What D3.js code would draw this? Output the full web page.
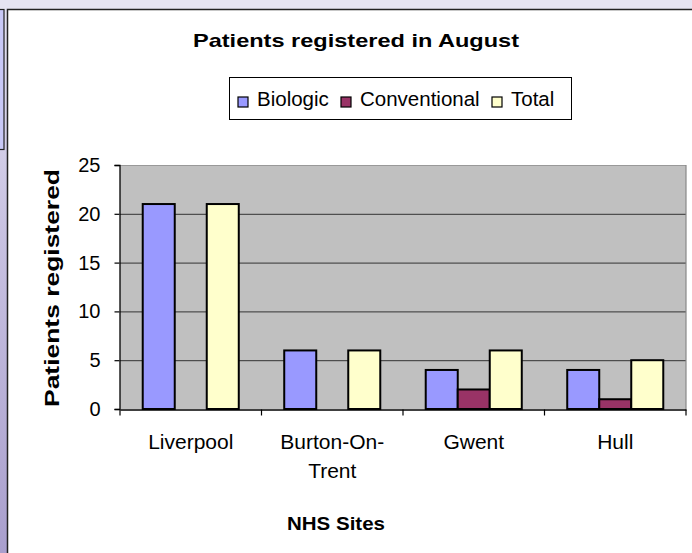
<!DOCTYPE html>
<html>
<head>
<meta charset="utf-8">
<script src="https://cdn.jsdelivr.net/npm/d3@7"></script>
<style>
html,body{margin:0;padding:0;background:#fff;}
svg{display:block;}
text{font-family:"Liberation Sans",Arial,sans-serif;fill:#000;}
</style>
</head>
<body>
<svg id="chart" width="692" height="553"></svg>
<script>
// ---- data ----
const categories = ["Liverpool", "Burton-On-Trent", "Gwent", "Hull"];
const categoryLabels = [["Liverpool"], ["Burton-On-", "Trent"], ["Gwent"], ["Hull"]];
const seriesNames = ["Biologic", "Conventional", "Total"];
const biologic = [21, 6, 4, 4];
const conventional = [0, 0, 2, 1];
const total = [21, 6, 6, 5];
const yTicks = [0, 5, 10, 15, 20, 25];
const colors = ["#9999ff", "#993366", "#ffffcc"];

const series = [biologic, conventional, total];

const svg = d3.select("#chart");
const W = 692, H = 553;

// background (slide behind the chart)
const defs = svg.append("defs");
const lg = defs.append("linearGradient").attr("id", "bgGrad").attr("x1", 0).attr("y1", 0).attr("x2", 0).attr("y2", 1);
lg.append("stop").attr("offset", "0%").attr("stop-color", "#e4e2f2");
lg.append("stop").attr("offset", "40%").attr("stop-color", "#c9c3e2");
lg.append("stop").attr("offset", "100%").attr("stop-color", "#a99fcd");
svg.append("rect").attr("x", 0).attr("y", 0).attr("width", W).attr("height", H).attr("fill", "url(#bgGrad)");
svg.append("rect").attr("x", 0).attr("y", 0).attr("width", W).attr("height", 9).attr("fill", "#e6e4f2");
svg.append("rect").attr("x", -2).attr("y", 9.5).attr("width", 6).attr("height", 140)
  .attr("fill", "#c8c8f6").attr("stroke", "#222").attr("stroke-width", 1.2);

// chart area
svg.append("rect").attr("x", 7.5).attr("y", 9.5).attr("width", 700).attr("height", 560)
  .attr("fill", "#fff").attr("stroke", "#222").attr("stroke-width", 1.5);

// scales
const x0 = d3.scaleBand().domain(categories).range([120, 686]).padding(0);
const x1 = d3.scaleBand().domain(seriesNames).range([0, x0.bandwidth()]).paddingInner(0).paddingOuter(0.71);
const y = d3.scaleLinear().domain([0, 25]).range([409, 165]);

// plot area
svg.append("rect").attr("x", 120).attr("y", y(25)).attr("width", 686 - 120).attr("height", y(0) - y(25))
  .attr("fill", "#c0c0c0");
// gridlines
svg.append("g").selectAll("line").data(yTicks.filter(t => t > 0 && t < 25)).join("line")
  .attr("x1", 120).attr("x2", 686).attr("y1", d => y(d) + 0.5).attr("y2", d => y(d) + 0.5)
  .attr("stroke", "#333").attr("stroke-width", 1);
// top and right border
svg.append("line").attr("x1", 120).attr("x2", 686).attr("y1", y(25) + 0.5).attr("y2", y(25) + 0.5)
  .attr("stroke", "#999").attr("stroke-width", 1.2);
svg.append("line").attr("x1", 686).attr("x2", 686).attr("y1", y(25)).attr("y2", y(0))
  .attr("stroke", "#888").attr("stroke-width", 1.2);

// bars
const barData = [];
categories.forEach((c, i) => {
  seriesNames.forEach((s, j) => {
    barData.push({cat: c, ser: s, value: series[j][i], color: colors[j]});
  });
});
svg.append("g").selectAll("rect").data(barData.filter(d => d.value > 0)).join("rect")
  .attr("x", d => x0(d.cat) + x1(d.ser))
  .attr("y", d => y(d.value))
  .attr("width", x1.bandwidth())
  .attr("height", d => y(0) - y(d.value))
  .attr("fill", d => d.color)
  .attr("stroke", "#000").attr("stroke-width", 2);

// y axis
const yAxis = d3.axisLeft(y).tickValues(yTicks).tickSize(5).tickPadding(14).tickFormat(d3.format("d"));
const gy = svg.append("g").attr("transform", "translate(119.5,0)").call(yAxis);
gy.select(".domain").attr("stroke", "#000").attr("stroke-width", 1.3);
gy.selectAll(".tick line").attr("stroke", "#000").attr("stroke-width", 1.2);
gy.selectAll(".tick text").attr("font-size", 20).attr("font-family", "Liberation Sans, Arial, sans-serif").attr("fill", "#000");

// x axis
const xAxis = d3.axisBottom(x0).tickValues([]).tickSizeOuter(0);
const gx = svg.append("g").attr("transform", "translate(0,409.5)").call(xAxis);
gx.select(".domain").attr("stroke", "#000").attr("stroke-width", 1.4);
const boundaries = categories.map(c => x0(c)).concat([x0(categories[categories.length - 1]) + x0.bandwidth()]);
gx.selectAll(".bt").data(boundaries).join("line").attr("class", "bt")
  .attr("x1", d => d).attr("x2", d => d).attr("y1", 0).attr("y2", 6)
  .attr("stroke", "#000").attr("stroke-width", 1.2);

// category labels
const labG = svg.append("g");
categories.forEach((c, i) => {
  const t = labG.append("text")
    .attr("x", x0(c) + x0.bandwidth() / 2)
    .attr("y", 449)
    .attr("text-anchor", "middle")
    .attr("font-size", 21);
  categoryLabels[i].forEach((line, k) => {
    t.append("tspan").attr("x", x0(c) + x0.bandwidth() / 2).attr("dy", k === 0 ? 0 : 29).text(line);
  });
});

// title
svg.append("text").attr("x", 356).attr("y", 47).attr("text-anchor", "middle")
  .attr("font-size", 19).attr("font-weight", "bold")
  .attr("textLength", 326).attr("lengthAdjust", "spacingAndGlyphs")
  .text("Patients registered in August");

// y axis title
svg.append("text").attr("transform", "translate(59,288) rotate(-90)").attr("text-anchor", "middle")
  .attr("font-size", 20).attr("font-weight", "bold")
  .attr("textLength", 238).attr("lengthAdjust", "spacingAndGlyphs")
  .text("Patients registered");

// x axis title
svg.append("text").attr("x", 336).attr("y", 530).attr("text-anchor", "middle")
  .attr("font-size", 19).attr("font-weight", "bold")
  .attr("textLength", 98).attr("lengthAdjust", "spacingAndGlyphs")
  .text("NHS Sites");

// legend
const legG = svg.append("g");
legG.append("rect").attr("x", 229.5).attr("y", 77.5).attr("width", 342).attr("height", 42)
  .attr("fill", "#fff").attr("stroke", "#000").attr("stroke-width", 1);
const legX = [238, 341, 492];
seriesNames.forEach((s, j) => {
  legG.append("rect").attr("x", legX[j]).attr("y", 97).attr("width", 10).attr("height", 10)
    .attr("fill", colors[j]).attr("stroke", "#000").attr("stroke-width", 1.2);
  legG.append("text").attr("x", legX[j] + 19).attr("y", 106).attr("font-size", 20.5).text(s);
});
</script>
</body>
</html>
